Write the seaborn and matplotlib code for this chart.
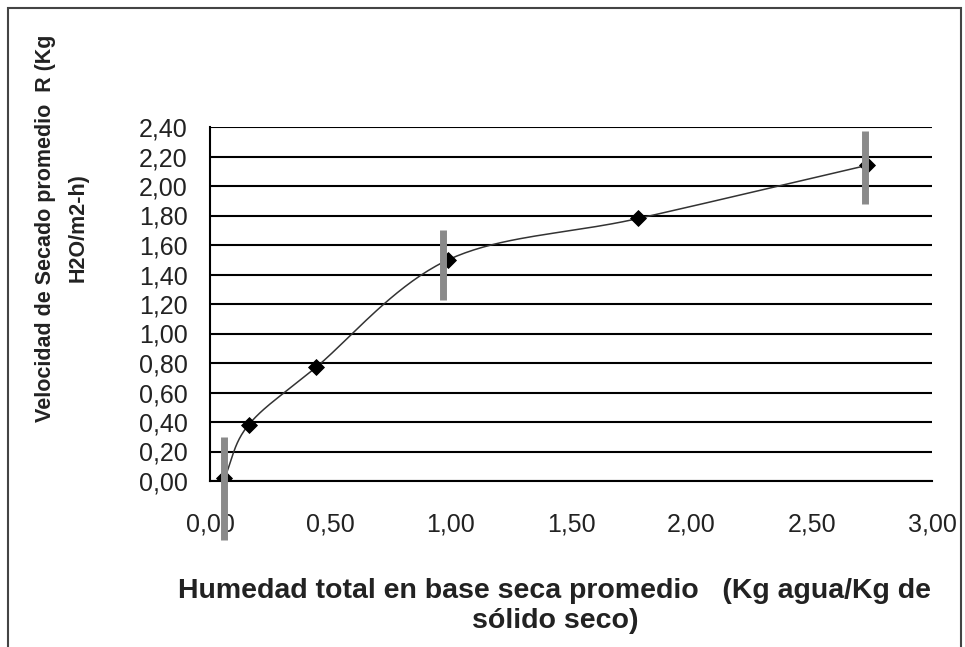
import numpy as np
import pandas as pd
import matplotlib
matplotlib.use("Agg")
import matplotlib.pyplot as plt
import seaborn as sns
from matplotlib.patches import Rectangle
from matplotlib.ticker import FuncFormatter

# datos
humedad = [0.06, 0.16, 0.44, 0.99, 1.78, 2.73]
velocidad = [0.02, 0.38, 0.77, 1.50, 1.78, 2.14]

# barras verticales grises (zonas de cambio)
barra_x = [0.06, 0.97, 2.72]
barra_ymin = [-0.40, 1.23, 1.88]
barra_ymax = [0.30, 1.70, 2.37]

x_ticks = [0.0, 0.5, 1.0, 1.5, 2.0, 2.5, 3.0]
y_ticks = [0.0, 0.2, 0.4, 0.6, 0.8, 1.0, 1.2, 1.4, 1.6, 1.8, 2.0, 2.2, 2.4]


def curva_suave(x, y, n=40):
    """Curva Catmull-Rom entre los puntos (como la linea suavizada de Excel)."""
    p = np.column_stack([x, y])
    p = np.vstack([p[0] - (p[1] - p[0]), p, p[-1] + (p[-1] - p[-2])])
    out = []
    for i in range(1, len(p) - 2):
        p0, p1, p2, p3 = p[i - 1], p[i], p[i + 1], p[i + 2]
        t = np.linspace(0, 1, n)[:, None]
        seg = 0.5 * ((2 * p1) + (-p0 + p2) * t +
                     (2 * p0 - 5 * p1 + 4 * p2 - p3) * t ** 2 +
                     (-p0 + 3 * p1 - 3 * p2 + p3) * t ** 3)
        out.append(seg)
    out = np.vstack(out)
    return out[:, 0], out[:, 1]


sns.set_style("white")
plt.rcParams['font.family'] = ['Liberation Sans', 'DejaVu Sans']

fig = plt.figure(figsize=(9.65, 6.47), dpi=100)
ax = fig.add_axes([210 / 965, 1 - 481 / 647, 722 / 965, 354 / 647])

df = pd.DataFrame({"humedad": humedad, "velocidad": velocidad})
xs, ys = curva_suave(df["humedad"].values, df["velocidad"].values)
ax.plot(xs, ys, color="#333333", lw=1.1, zorder=3)
sns.scatterplot(data=df, x="humedad", y="velocidad", marker="D", s=65,
                color="black", edgecolor="black", ax=ax, zorder=4)

ax.vlines(barra_x, barra_ymin, barra_ymax, color="#8a8a8a", lw=5,
          zorder=5, clip_on=False)

ax.set_xlim(0, 3)
ax.set_ylim(0, 2.4)
ax.set_xticks(x_ticks)
ax.set_yticks(y_ticks)
fmt = FuncFormatter(lambda v, pos: f"{v:.2f}".replace(".", ","))
ax.xaxis.set_major_formatter(fmt)
ax.yaxis.set_major_formatter(fmt)
ax.tick_params(axis="both", labelsize=18, colors="#222222", direction="out")
ax.tick_params(axis="y", length=10, width=1.5, pad=6, color="black")
ax.tick_params(axis="x", length=7, width=1.5, pad=16, color="black")
ax.yaxis.grid(True, color="black", lw=1.5)
ax.set_axisbelow(True)
for s in ["top", "right"]:
    ax.spines[s].set_visible(False)
for s in ["left", "bottom"]:
    ax.spines[s].set_color("black")
    ax.spines[s].set_linewidth(1.5)
ax.set_xlabel("")
ax.set_ylabel("")

fig.text(62 / 965, 1 - 228 / 647,
         "Velocidad de Secado promedio  R (Kg\nH2O/m2-h)",
         rotation=90, ha="center", va="center", fontsize=15.5,
         fontweight="bold", linespacing=1.7, color="#222222")
fig.text(555 / 965, 1 - 606 / 647,
         "Humedad total en base seca promedio   (Kg agua/Kg de\nsólido seco)",
         ha="center", va="center", fontsize=20.5, fontweight="bold",
         linespacing=1.25, color="#222222")

fig.patches.append(Rectangle((8 / 965, -0.01), 953 / 965, 1 - 8 / 647 + 0.01,
                             transform=fig.transFigure, fill=False,
                             edgecolor="#444444", lw=1.5))

fig.savefig("out.png", dpi=100)
